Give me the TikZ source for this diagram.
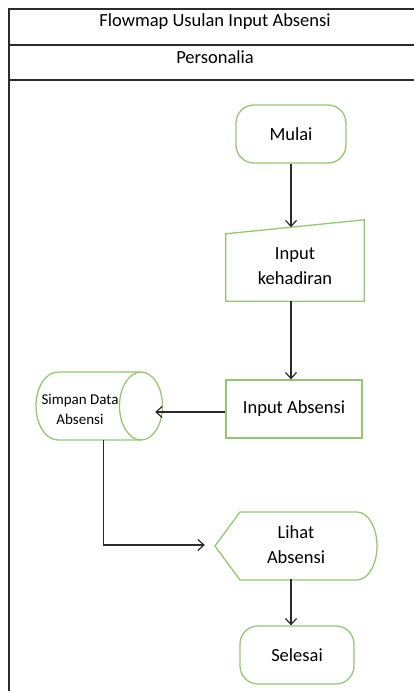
\documentclass[tikz,border=0pt]{standalone}
\usepackage{fontspec}
\setmainfont{Carlito}
\usetikzlibrary{calc, arrows.meta}
\definecolor{flowgreen}{HTML}{92C96E}
\definecolor{framegray}{HTML}{2B2B2B}
\tikzset{
    flowtext/.style = {align = center, font = \fontsize{18.5}{25}\selectfont},
    flowbox/.style = {flowtext, draw = flowgreen, line width = 1.3pt, rectangle},
    flowline/.style = {draw = flowgreen, line width = 1.3pt},
    flowarrow/.style = {-{Straight Barb[length = 6pt, width = 11pt]}, line width = 1.2pt, draw = framegray},
    frameline/.style = {draw = framegray, line width = 1.4pt}
}
\begin{document}
\begin{tikzpicture}[x = 1pt, y = 1pt]
        \useasboundingbox (0, 0) rectangle (414, -691);

        % Frame
        \draw [frameline] (414, -9) -- (9, -9) -- (9, -691);
        \draw [frameline] (9, -45) -- (414, -45);
        \draw [frameline] (9, -80) -- (414, -80);
        \node [flowtext] (title) at (215, -22) {Flowmap Usulan Input Absensi};
        \node [flowtext] (lane) at (215, -57) {Personalia};

        % Shapes
        \node [flowbox, rounded corners = 18pt, minimum width = 110pt, minimum height = 58pt] (mulai) at (291, -134) {Mulai};

        \node [flowtext, inner sep = 0pt, minimum width = 138pt, minimum height = 70pt] (kehadiran) at (295, -266) {Input\\kehadiran};
        \draw [flowline] (kehadiran.south west) -- ($(kehadiran.north west) + (0, -3)$) -- coordinate [pos = 0.47] (kehtop) ($(kehadiran.north east) + (0, 11)$) -- (kehadiran.south east) -- cycle;

        \node [flowbox, minimum width = 136pt, minimum height = 58pt] (absensi) at (294, -409) {Input Absensi};

        \node [inner sep = 0pt, minimum width = 127pt, minimum height = 68pt] (simpan) at (99.5, -406) {};
        \draw [flowline] (58, -372) -- (141, -372) arc [start angle = 90, end angle = -90, x radius = 21.5, y radius = 34] -- (58, -440) arc [start angle = 270, end angle = 90, x radius = 22, y radius = 34];
        \draw [flowline] (141, -372) arc [start angle = 90, end angle = 270, x radius = 21.5, y radius = 34];
        \node [align = center, font = \fontsize{15}{20}\selectfont] (simpanlabel) at (80, -409) {Simpan Data\\Absensi};

        \node [flowtext, inner sep = 0pt, minimum width = 162pt, minimum height = 68pt] (lihat) at (296, -545) {Lihat\\Absensi};
        \draw [flowline] (215, -546) -- (240, -512) -- (357, -512) arc [start angle = 90, end angle = -90, x radius = 20, y radius = 34] -- (240, -580) -- cycle;

        \node [flowbox, rounded corners = 18pt, minimum width = 114pt, minimum height = 58pt] (selesai) at (297, -655) {Selesai};

        % Connectors
        \draw [flowarrow] (mulai.south) -- (kehtop -| mulai);
        \draw [flowarrow] (kehadiran.south -| mulai) -- (absensi.north -| mulai);
        \draw [flowarrow] ($(absensi.west) + (0, -3)$) -- ($(simpan.east) + (-8, -6)$);
        \draw [flowarrow, shorten > = 10pt] ($(simpan.south) + (4, 0)$) |- (lihat.west);
        \draw [flowarrow] (lihat.south -| mulai) -- (selesai.north -| mulai);

\end{tikzpicture}
\end{document}
